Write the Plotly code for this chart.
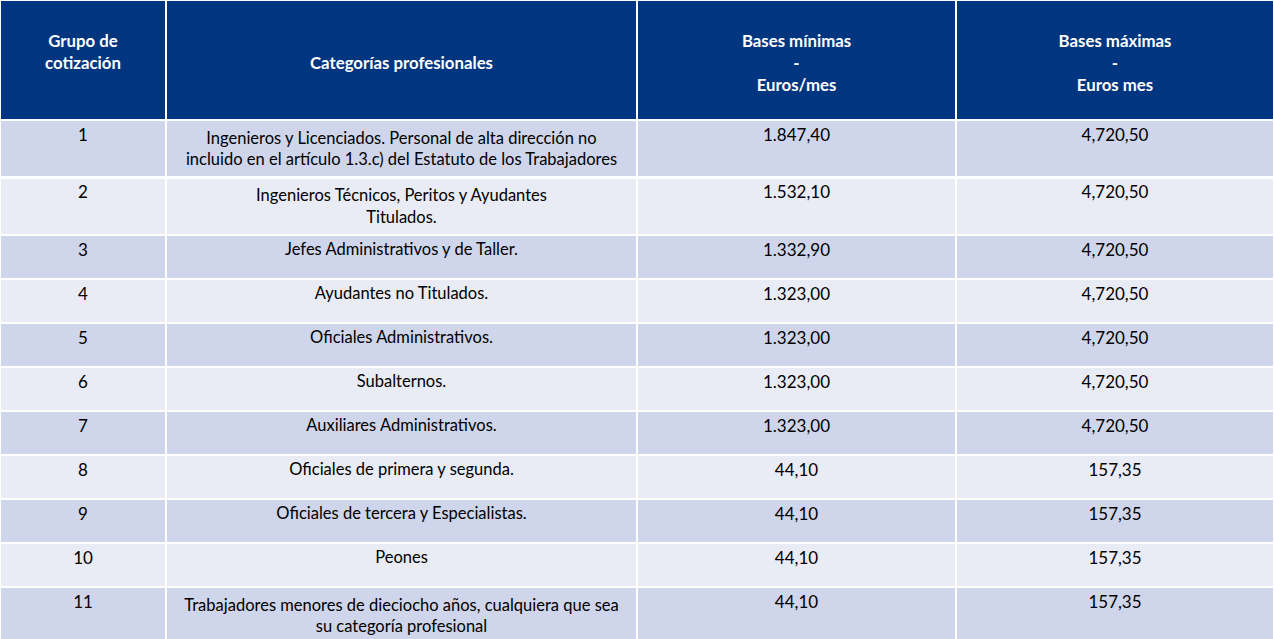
import plotly.graph_objects as go

grupos = ["1", "2", "3", "4", "5", "6", "7", "8", "9", "10", "11"]
categorias = [
    "Ingenieros y Licenciados. Personal de alta dirección no<br>incluido en el artículo 1.3.c) del Estatuto de los Trabajadores",
    "Ingenieros Técnicos, Peritos y Ayudantes<br>Titulados.",
    "Jefes Administrativos y de Taller.",
    "Ayudantes no Titulados.",
    "Oficiales Administrativos.",
    "Subalternos.",
    "Auxiliares Administrativos.",
    "Oficiales de primera y segunda.",
    "Oficiales de tercera y Especialistas.",
    "Peones",
    "Trabajadores menores de dieciocho años, cualquiera que sea<br>su categoría profesional",
]
bases_minimas = ["1.847,40", "1.532,10", "1.332,90", "1.323,00", "1.323,00", "1.323,00",
                 "1.323,00", "44,10", "44,10", "44,10", "44,10"]
bases_maximas = ["4,720,50", "4,720,50", "4,720,50", "4,720,50", "4,720,50", "4,720,50",
                 "4,720,50", "157,35", "157,35", "157,35", "157,35"]
headers = [
    "\u00a0<br><b>Grupo de<br>cotización</b>",
    "\u00a0<br>\u00a0<br><b>Categorías profesionales</b>",
    "\u00a0<br><b>Bases mínimas<br>-<br>Euros/mes</b>",
    "\u00a0<br><b>Bases máximas<br>-<br>Euros mes</b>",
]

FONT = "Lato, 'Open Sans', sans-serif"
row_colors = ["#CFD5EA" if i % 2 == 0 else "#E9EBF5" for i in range(len(grupos))]

fig = go.Figure(go.Table(
    columnwidth=[166, 471, 319, 318],
    header=dict(
        values=headers,
        fill_color="#00367F",
        line=dict(color="white", width=2.5),
        align="center",
        font=dict(family=FONT, size=16.8, color="white"),
        height=120,
    ),
    cells=dict(
        values=[grupos, categorias, bases_minimas, bases_maximas],
        fill_color=[row_colors] * 4,
        line=dict(color="white", width=2.5),
        align="center",
        font=dict(family=FONT, size=[17, 16.5, 17, 17], color="black"),
        height=44,
    ),
    domain=dict(x=[0, 1], y=[0, 1]),
))

fig.update_layout(
    width=1274, height=639,
    margin=dict(l=0, r=0, t=0, b=0),
    paper_bgcolor="white",
)

post = """
document.body.style.margin = '0';
document.body.style.overflow = 'hidden';
var gd = document.getElementById('{plot_id}');
function centerLines() {
  gd.querySelectorAll('text.cell-text').forEach(function (t) {
    var ts = t.querySelectorAll('tspan.line');
    if (ts.length > 1 && !t.getAttribute('data-centered')) {
      var bb = t.getBBox();
      var cx = bb.x + bb.width / 2;
      t.setAttribute('text-anchor', 'middle');
      ts.forEach(function (s) { s.setAttribute('x', cx); s.setAttribute('text-anchor', 'middle'); });
      t.setAttribute('data-centered', '1');
    }
  });
}
centerLines();
setTimeout(centerLines, 100);
setTimeout(centerLines, 400);
"""

fig.write_html("out.html", post_script=post, config={"displayModeBar": False})
